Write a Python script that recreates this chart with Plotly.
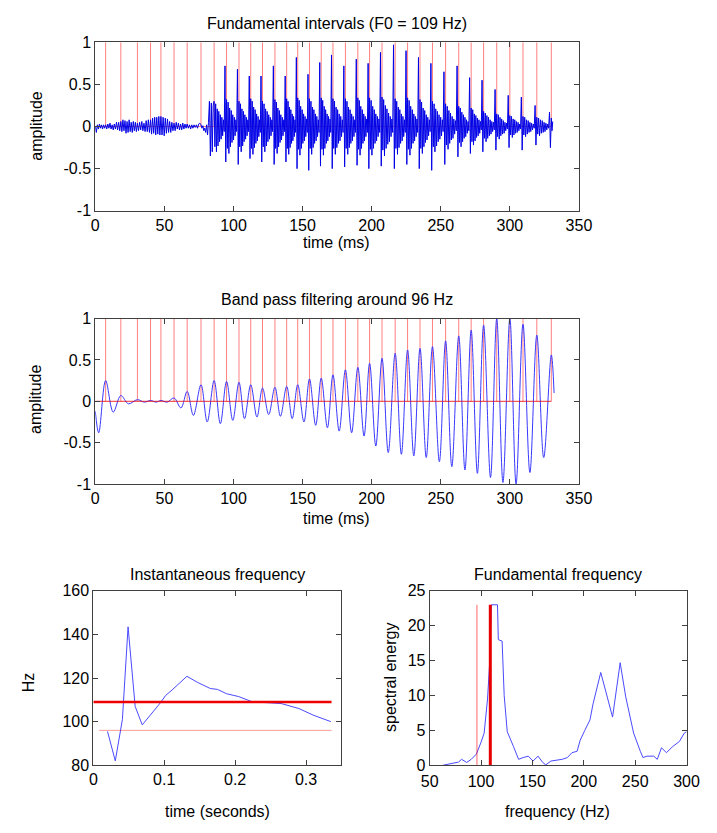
import plotly.graph_objects as go

# ---------------- data ----------------
# pitch marks (ms)
marks = [7.5, 18.5, 30.5, 40, 47.5, 57, 66.5, 76.5, 86, 95, 104, 112.5, 121, 130,
         138.5, 146.5, 155, 163.5, 172, 181, 190, 198.5, 207.5, 217, 226, 235, 244,
         253.5, 263, 272, 281, 290.5, 300, 309.5, 319.5, 330]

# top signal: sample values read per interval between successive edges
top_edges = [0.0] + marks + [331.5]
top_segments = [
    [0.0, -0.07, 0.02, -0.03, 0.03, -0.02, 0.02, -0.03, 0.02, -0.02],
    [0.02, -0.03, 0.03, -0.02, 0.04, -0.03, 0.02, -0.04, 0.03, -0.03, 0.05, -0.04, 0.05, -0.05],
    [0.06, -0.06, 0.08, -0.05, 0.07, -0.08, 0.06, -0.07, 0.08, -0.06, 0.05, -0.07, 0.06, -0.05, 0.05, -0.06],
    [0.04, -0.05, 0.05, -0.04, 0.06, -0.05, 0.04, -0.06, 0.07, -0.06, 0.08, -0.07],
    [0.08, -0.09, 0.1, -0.08, 0.11, -0.1, 0.11, -0.09, 0.12, -0.1],
    [0.12, -0.1, 0.11, -0.11, 0.1, -0.08, 0.09, -0.07, 0.06, -0.07, 0.05, -0.05],
    [0.04, -0.05, 0.05, -0.03, 0.04, -0.04, 0.03, -0.04, 0.04, -0.03, 0.03, -0.02],
    [0.03, -0.02, 0.02, -0.03, 0.02, -0.02, 0.02, -0.01, 0.02, -0.02, 0.03, 0.04],
    [0.02, -0.02, 0.01, -0.05, -0.02, -0.07, 0.02, -0.1, 0.05, 0.3, -0.35, 0.28, -0.3, 0.25],
    [0.3, -0.24, 0.27, -0.3, 0.21, -0.23, 0.18, -0.18, 0.14, -0.15, 0.11, -0.11, 0.08, -0.06, 0.72, -0.42],
    [0.32, -0.26, 0.29, -0.32, 0.22, -0.24, 0.19, -0.19, 0.14, -0.16, 0.11, -0.11, 0.08, -0.06, 0.68, -0.45],
    [0.3, -0.24, 0.27, -0.3, 0.21, -0.23, 0.18, -0.18, 0.14, -0.15, 0.11, -0.11, 0.08, -0.06, 0.6, -0.38],
    [0.33, -0.26, 0.3, -0.33, 0.23, -0.25, 0.2, -0.2, 0.15, -0.17, 0.12, -0.12, 0.08, -0.07, 0.6, -0.42],
    [0.3, -0.24, 0.27, -0.3, 0.21, -0.23, 0.18, -0.18, 0.14, -0.15, 0.11, -0.11, 0.08, -0.06, 0.72, -0.45],
    [0.32, -0.26, 0.29, -0.32, 0.22, -0.24, 0.19, -0.19, 0.14, -0.16, 0.11, -0.11, 0.08, -0.06, 0.6, -0.42],
    [0.33, -0.26, 0.3, -0.33, 0.23, -0.25, 0.2, -0.2, 0.15, -0.17, 0.12, -0.12, 0.08, -0.07, 0.82, -0.5],
    [0.34, -0.27, 0.31, -0.34, 0.24, -0.26, 0.2, -0.2, 0.15, -0.17, 0.12, -0.12, 0.09, -0.07, 0.62, -0.52],
    [0.33, -0.26, 0.3, -0.33, 0.23, -0.25, 0.2, -0.2, 0.15, -0.17, 0.12, -0.12, 0.08, -0.07, 0.76, -0.47],
    [0.34, -0.27, 0.31, -0.34, 0.24, -0.26, 0.2, -0.2, 0.15, -0.17, 0.12, -0.12, 0.09, -0.07, 0.85, -0.5],
    [0.33, -0.26, 0.3, -0.33, 0.23, -0.25, 0.2, -0.2, 0.15, -0.17, 0.12, -0.12, 0.08, -0.07, 0.72, -0.48],
    [0.33, -0.26, 0.3, -0.33, 0.23, -0.25, 0.2, -0.2, 0.15, -0.17, 0.12, -0.12, 0.08, -0.07, 0.8, -0.46],
    [0.34, -0.27, 0.31, -0.34, 0.24, -0.26, 0.2, -0.2, 0.15, -0.17, 0.12, -0.12, 0.09, -0.07, 0.75, -0.5],
    [0.34, -0.27, 0.31, -0.34, 0.24, -0.26, 0.2, -0.2, 0.15, -0.17, 0.12, -0.12, 0.09, -0.07, 0.88, -0.47],
    [0.35, -0.28, 0.32, -0.35, 0.25, -0.26, 0.21, -0.21, 0.16, -0.18, 0.12, -0.12, 0.09, -0.07, 0.97, -0.5],
    [0.33, -0.26, 0.3, -0.33, 0.23, -0.25, 0.2, -0.2, 0.15, -0.17, 0.12, -0.12, 0.08, -0.07, 0.9, -0.45],
    [0.34, -0.27, 0.31, -0.34, 0.24, -0.26, 0.2, -0.2, 0.15, -0.17, 0.12, -0.12, 0.09, -0.07, 0.82, -0.5],
    [0.32, -0.26, 0.29, -0.32, 0.22, -0.24, 0.19, -0.19, 0.14, -0.16, 0.11, -0.11, 0.08, -0.06, 0.75, -0.52],
    [0.3, -0.24, 0.27, -0.3, 0.21, -0.23, 0.18, -0.18, 0.14, -0.15, 0.11, -0.11, 0.08, -0.06, 0.65, -0.45],
    [0.27, -0.22, 0.24, -0.27, 0.19, -0.2, 0.16, -0.16, 0.12, -0.14, 0.09, -0.09, 0.07, -0.05, 0.72, -0.36],
    [0.24, -0.19, 0.22, -0.24, 0.17, -0.18, 0.14, -0.14, 0.11, -0.12, 0.08, -0.08, 0.06, -0.05, 0.58, -0.32],
    [0.22, -0.18, 0.2, -0.22, 0.15, -0.17, 0.13, -0.13, 0.1, -0.11, 0.08, -0.08, 0.06, -0.04, 0.55, -0.3],
    [0.18, -0.14, 0.16, -0.18, 0.13, -0.14, 0.11, -0.11, 0.08, -0.09, 0.06, -0.06, 0.05, -0.04, 0.44, -0.28],
    [0.15, -0.12, 0.14, -0.15, 0.11, -0.11, 0.09, -0.09, 0.07, -0.08, 0.05, -0.05, 0.04, -0.03, 0.37, -0.25],
    [0.13, -0.1, 0.12, -0.13, 0.09, -0.1, 0.08, -0.08, 0.06, -0.07, 0.05, -0.05, 0.03, -0.03, 0.35, -0.28],
    [0.12, -0.1, 0.11, -0.12, 0.08, -0.09, 0.07, -0.07, 0.05, -0.06, 0.04, -0.04, 0.03, -0.02, 0.25, -0.22],
    [0.11, -0.09, 0.1, -0.11, 0.08, -0.08, 0.07, -0.07, 0.05, -0.06, 0.04, -0.04, 0.03, -0.02, 0.17, -0.25],
    [0.1, -0.05, 0.06],
]

# band-pass filtered signal: extrema (ms, amplitude)
bp_t = [0, 2.5, 7.5, 13, 18.5, 24, 30.5, 35.5, 40, 44, 47.5, 52, 57, 62, 66.5, 71,
        76.5, 81, 86, 90.5, 95, 99.5, 104, 108, 112.5, 117, 121, 125.5, 130, 134,
        138.5, 142.5, 146.5, 151, 155, 159.5, 163.5, 168, 172, 176.5, 181, 185.5,
        190, 194.5, 198.5, 203, 207.5, 212, 217, 221.5, 226, 230.5, 235, 239.5, 244,
        249, 253.5, 258, 263, 267.5, 272, 276.5, 281, 286, 290.5, 295, 300, 304.5,
        309.5, 314.5, 319.5, 324.5, 330, 332]
bp_v = [-0.12, -0.38, 0.25, -0.13, 0.07, -0.03, 0.02, -0.01, 0.01, -0.01, 0.01,
        -0.01, 0.04, -0.08, 0.12, -0.17, 0.2, -0.25, 0.25, -0.27, 0.24, -0.23, 0.23,
        -0.21, 0.2, -0.19, 0.16, -0.16, 0.17, -0.18, 0.18, -0.21, 0.2, -0.25, 0.27,
        -0.29, 0.28, -0.32, 0.32, -0.36, 0.38, -0.38, 0.41, -0.42, 0.46, -0.54, 0.52,
        -0.62, 0.58, -0.64, 0.62, -0.66, 0.64, -0.68, 0.66, -0.73, 0.73, -0.79, 0.79,
        -0.83, 0.86, -0.87, 0.92, -0.92, 1.0, -0.98, 1.0, -1.0, 0.93, -0.86, 0.8,
        -0.68, 0.56, 0.1]

# instantaneous frequency
if_t = [0.020, 0.031, 0.041, 0.049, 0.059, 0.069, 0.093, 0.102, 0.111, 0.118, 0.132,
        0.147, 0.165, 0.175, 0.188, 0.205, 0.225, 0.245, 0.265, 0.29, 0.31, 0.335]
if_f = [95.5, 82, 101, 143.5, 107, 98.5, 108, 112, 114.5, 116.5, 120.8, 118, 115.2,
        114.8, 112.8, 111.5, 109, 108.7, 108.3, 106, 103, 100]
f0_est = 109
f_band = 96
if_span = [0.0, 0.336]
if_span_thin = [0.008, 0.336]

# spectrum
sp_f = [63, 71.5, 78, 81, 86, 90.5, 95.5, 100, 103, 106.3, 108.5, 110, 116, 116.8,
        120.5, 122.5, 125.5, 131.5, 136.5, 141, 146, 150.5, 155.5, 160, 163, 168, 179,
        184, 188.5, 193.5, 196.5, 201, 206, 209, 214, 216.5, 228, 235.4, 240.8, 248.5,
        255, 257.6, 261.4, 268, 271.5, 275.6, 280.4, 286.7, 293, 297.8, 300]
sp_e = [0, 0.25, 0.45, 0.85, 0.4, 0.85, 1.6, 3.3, 4.6, 9.5, 15, 23, 23, 18, 17.8, 10,
        4.8, 2.7, 0.85, 1.1, 1.3, 0.6, 1.3, 0.4, 0.05, 0.6, 0.85, 1.1, 1.8, 2.0, 3.6,
        5.0, 6.5, 8.8, 11.6, 13.3, 6.9, 14.7, 9.8, 4.6, 2.0, 1.1, 1.3, 1.3, 0.85, 2.5,
        1.8, 2.7, 3.4, 4.6, 4.8]
sp_line_top = 23

# ticks
amp_ticks = [-1, -0.5, 0, 0.5, 1]
amp_ticktext = ["-1", "-0.5", "0", "0.5", "1"]
ms_ticks = [0, 50, 100, 150, 200, 250, 300, 350]
sec_ticks = [0, 0.1, 0.2, 0.3]
sec_ticktext = ["0", "0.1", "0.2", "0.3"]
hz_ticks = [80, 100, 120, 140, 160]
freq_ticks = [50, 100, 150, 200, 250, 300]
en_ticks = [0, 5, 10, 15, 20, 25]

# ---------------- build ----------------
top_x, top_y = [], []
for k, seg in enumerate(top_segments):
    a, b = top_edges[k], top_edges[k + 1]
    n = len(seg)
    for i, v in enumerate(seg):
        top_x.append(a + (b - a) * i / n)
        top_y.append(v)

stem_x, stem_y = [], []
for m in marks:
    stem_x += [m, m, None]
    stem_y += [0, 1, None]

W, H = 717, 833
FONT = "Liberation Sans Narrow, Arial Narrow, Liberation Sans, Arial, sans-serif"
RED_THIN = "rgba(255,0,0,0.5)"
BLUE = "#0000e6"
FS = 16

fig = go.Figure()
# panel 1
fig.add_trace(go.Scatter(x=stem_x, y=stem_y, mode="lines", line=dict(color=RED_THIN, width=1), xaxis="x", yaxis="y"))
fig.add_trace(go.Scatter(x=[0, marks[-1]], y=[0, 0], mode="lines", line=dict(color=RED_THIN, width=1), xaxis="x", yaxis="y"))
fig.add_trace(go.Scatter(x=top_x, y=top_y, mode="lines", line=dict(color=BLUE, width=1), xaxis="x", yaxis="y"))
# panel 2
fig.add_trace(go.Scatter(x=stem_x, y=stem_y, mode="lines", line=dict(color=RED_THIN, width=1), xaxis="x2", yaxis="y2"))
fig.add_trace(go.Scatter(x=bp_t, y=bp_v, mode="lines", line=dict(color="#3838ff", width=1, shape="spline", smoothing=1.0), xaxis="x2", yaxis="y2"))
fig.add_trace(go.Scatter(x=[0, marks[-1]], y=[0, 0], mode="lines", line=dict(color="rgba(230,0,0,0.8)", width=1), xaxis="x2", yaxis="y2"))
# panel 3
fig.add_trace(go.Scatter(x=if_t, y=if_f, mode="lines", line=dict(color="#4a4aff", width=1), xaxis="x3", yaxis="y3"))
fig.add_trace(go.Scatter(x=if_span_thin, y=[f_band, f_band], mode="lines", line=dict(color="rgba(255,0,0,0.4)", width=1), xaxis="x3", yaxis="y3"))
fig.add_trace(go.Scatter(x=if_span, y=[f0_est, f0_est], mode="lines", line=dict(color="#ee0000", width=2.5), xaxis="x3", yaxis="y3"))
# panel 4
fig.add_trace(go.Scatter(x=sp_f, y=sp_e, mode="lines", line=dict(color="#4a4aff", width=1), xaxis="x4", yaxis="y4"))
fig.add_trace(go.Scatter(x=[f_band, f_band], y=[0, sp_line_top], mode="lines", line=dict(color="rgba(255,0,0,0.6)", width=1), xaxis="x4", yaxis="y4"))
fig.add_trace(go.Scatter(x=[f0_est, f0_est], y=[0, sp_line_top], mode="lines", line=dict(color="#e80000", width=3), xaxis="x4", yaxis="y4"))

axstyle = dict(showline=True, linecolor="#404040", linewidth=1, mirror="allticks",
               ticks="inside", ticklen=5, tickcolor="#404040", showgrid=False,
               zeroline=False, fixedrange=True,
               tickfont=dict(family=FONT, size=FS, color="black"))

def dx(a, b):
    return [a / W, b / W]

def dy(top, bottom):
    return [1 - bottom / H, 1 - top / H]

fig.update_layout(
    width=W, height=H, autosize=False, showlegend=False,
    margin=dict(l=0, r=0, t=0, b=0),
    paper_bgcolor="white", plot_bgcolor="white",
    xaxis=dict(axstyle, domain=dx(89, 588), range=[0, 350], tickvals=ms_ticks, anchor="y"),
    yaxis=dict(axstyle, domain=dy(35, 207), range=[-1, 1], tickvals=amp_ticks, ticktext=amp_ticktext, anchor="x"),
    xaxis2=dict(axstyle, domain=dx(89, 588), range=[0, 350], tickvals=ms_ticks, anchor="y2"),
    yaxis2=dict(axstyle, domain=dy(317, 486), range=[-1, 1], tickvals=amp_ticks, ticktext=amp_ticktext, anchor="x2"),
    xaxis3=dict(axstyle, domain=dx(87, 343), range=[0, 0.35], tickvals=sec_ticks, ticktext=sec_ticktext, anchor="y3"),
    yaxis3=dict(axstyle, domain=dy(595, 773), range=[80, 160], tickvals=hz_ticks, anchor="x3"),
    xaxis4=dict(axstyle, domain=dx(434, 699), range=[50, 300], tickvals=freq_ticks, anchor="y4", ticklabelstandoff=2),
    yaxis4=dict(axstyle, domain=dy(595, 773), range=[0, 25], tickvals=en_ticks, anchor="x4"),
)

def label(text, x, y, angle=0, size=FS):
    fig.add_annotation(text=text, x=x / W, y=1 - y / H, xref="paper", yref="paper",
                       showarrow=False, textangle=angle, xanchor="center", yanchor="middle",
                       font=dict(family=FONT, size=size, color="black"))

label("Fundamental intervals (F0 = 109 Hz)", 338, 16)
label("Band pass filtering around 96 Hz", 338, 298)
label("Instantaneous frequency", 215, 578)
label("Fundamental frequency", 566, 578)
label("time (ms)", 338, 239)
label("time (ms)", 338, 521)
label("amplitude", 28, 121, -90)
label("amplitude", 28, 400, -90)
label("Hz", 21, 688, -90)
label("time (seconds)", 215, 820)
label("spectral energy", 393, 683, -90)
label("frequency (Hz)", 566, 820)

fig.write_html("out.html")
